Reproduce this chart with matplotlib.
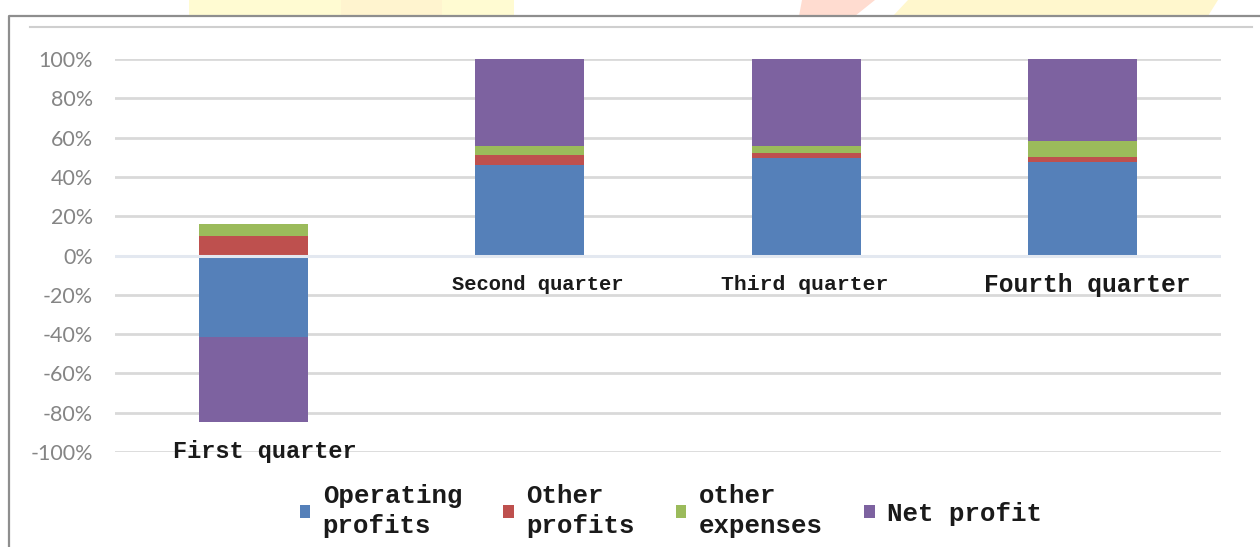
import numpy as np
import matplotlib
matplotlib.use("Agg")
import matplotlib.pyplot as plt
from matplotlib.patches import Polygon
from matplotlib.lines import Line2D

# data (share of total, %)
quarters = ["First quarter", "Second quarter", "Third quarter", "Fourth quarter"]
series_names = ["Operating\nprofits", "Other\nprofits", "other\nexpenses", "Net profit"]
operating_profits = [-41.6, 46.3, 49.6, 47.6]
other_profits = [9.8, 5.0, 2.8, 2.5]
other_expenses = [6.3, 4.5, 3.1, 8.3]
net_profit = [-43.2, 44.2, 44.5, 41.6]
y_ticks = [-100, -80, -60, -40, -20, 0, 20, 40, 60, 80, 100]

colors = ["#5580B9", "#BE504E", "#9BBB5B", "#7D62A0"]
label_sizes = [17, 14.8, 15.4, 17.7]
label_dx = [12, 8, -2, 4]

W, H = 1260, 547
fig = plt.figure(figsize=(W / 100, H / 100), dpi=100)

# watermark shapes above the frame
def px_poly(pts, color):
    fig.patches.append(Polygon([(x / W, 1 - y / H) for x, y in pts], closed=True,
                               transform=fig.transFigure, facecolor=color,
                               edgecolor="none", zorder=0))

px_poly([(189, 0), (514, 0), (514, 16), (189, 16)], "#FFFBD2")
px_poly([(341, 0), (442, 0), (442, 16), (341, 16)], "#FFF4CF")
px_poly([(802, 0), (875, 0), (855, 16), (799, 16)], "#FFDCD0")
px_poly([(908, 0), (1218, 0), (1208, 16), (893, 16)], "#FFF7CD")

# outer frame
fig.add_artist(Line2D([9 / W, 9 / W, 1], [0, 1 - 16 / H, 1 - 16 / H],
                      transform=fig.transFigure, color="#8E8E8E", lw=1.6))
fig.add_artist(Line2D([30 / W, 1252 / W], [1 - 27 / H, 1 - 27 / H],
                      transform=fig.transFigure, color="#CFCFCF", lw=1.5))

ax = fig.add_axes([115 / W, 1 - 452 / H, (1221 - 115) / W, (452 - 59) / H])

x = np.arange(len(quarters))
width = 0.394
pos_base = np.zeros(len(quarters))
neg_base = np.zeros(len(quarters))
bars = []
for vals, name, c in zip([operating_profits, other_profits, other_expenses, net_profit],
                         series_names, colors):
    vals = np.array(vals)
    base = np.where(vals >= 0, pos_base, neg_base)
    b = ax.bar(x, vals, width, bottom=base, color=c, label=name,
               edgecolor="none", zorder=3)
    bars.append(b)
    pos_base = pos_base + np.where(vals >= 0, vals, 0)
    neg_base = neg_base + np.where(vals < 0, vals, 0)

ax.axhline(0, color="#E3E8F0", lw=2.2, zorder=4)

ax.set_xlim(-0.5, len(quarters) - 0.5)
ax.set_ylim(-100, 100)
ax.set_yticks(y_ticks)
ax.set_yticklabels([f"{t}%" for t in y_ticks], fontfamily="Lato", fontsize=15.5,
                   color="#858585")
ax.tick_params(axis="y", length=0, pad=16)
ax.set_xticks([])
ax.grid(axis="y", color="#D9D9D9", linewidth=2, zorder=0)
for s in ax.spines.values():
    s.set_visible(False)

# category labels just below the lowest point of each bar
for i, q in enumerate(quarters):
    low = min(neg_base[i], 0)
    ax.annotate(q, (i, low), xytext=(label_dx[i] * 0.72, -21), textcoords="offset points",
                ha="center", va="center", fontfamily="Liberation Mono",
                fontweight="bold", fontsize=label_sizes[i], color="#1A1A1A")

leg = fig.legend(handles=bars, labels=series_names, loc="center",
                 bbox_to_anchor=(671 / W, 1 - 511 / H), ncol=4, frameon=False,
                 prop={"family": "Liberation Mono", "weight": "bold", "size": 18.5},
                 handlelength=0.4, handleheight=0.4, handletextpad=0.5,
                 columnspacing=1.6, labelspacing=0.2)
for t in leg.get_texts():
    t.set_color("#1A1A1A")
    t.set_linespacing(1.3)

fig.savefig("out.png", dpi=100)
